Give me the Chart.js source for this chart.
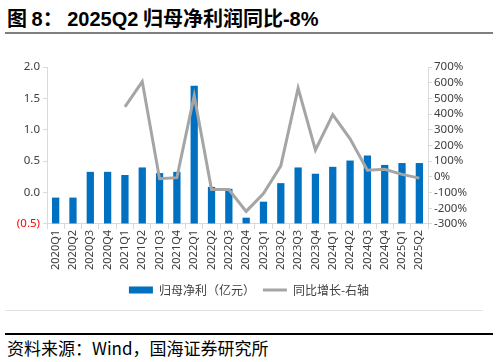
<!DOCTYPE html>
<html>
<head>
<meta charset="utf-8">
<script src="https://cdn.jsdelivr.net/npm/chart.js@4.4.0/dist/chart.umd.min.js"></script>
<style>
  body { margin: 0; background: #fff; width: 498px; height: 362px; position: relative; overflow: hidden; }
  #title { position: absolute; left: 7px; top: 3px; font: bold 20px "Noto Sans CJK SC", "Liberation Sans", sans-serif; color: #000; white-space: nowrap; }
  #title .num { font-family: "Liberation Sans", Arial, sans-serif; }
  #topline { position: absolute; left: 5px; top: 32px; width: 488px; height: 2px; background: #7f7f7f; }
  #wrap { position: absolute; left: 0; top: 40px; width: 498px; height: 266px; }
  #midline { position: absolute; left: 5px; top: 310px; width: 478px; height: 1px; background: #e3e3e3; }
  #botline { position: absolute; left: 5px; top: 333px; width: 488px; height: 2px; background: #000; }
  #source { position: absolute; left: 7px; top: 335px; font: 17px "Noto Sans CJK SC", sans-serif; color: #000; white-space: nowrap; }
</style>
</head>
<body>
<div id="title">图 <span class="num">8</span>：&nbsp;<span class="num">2025Q2</span> 归母净利润同比<span class="num">-8%</span></div>
<div id="topline"></div>
<div id="wrap"><canvas id="profitChart"></canvas></div>
<div id="midline"></div>
<div id="botline"></div>
<div id="source">资料来源：Wind，国海证券研究所</div>
<script>
const quarters = ['2020Q1','2020Q2','2020Q3','2020Q4','2021Q1','2021Q2','2021Q3','2021Q4',
  '2022Q1','2022Q2','2022Q3','2022Q4','2023Q1','2023Q2','2023Q3','2023Q4',
  '2024Q1','2024Q2','2024Q3','2024Q4','2025Q1','2025Q2'];
// 归母净利（亿元）
const netProfit = [-0.08, -0.08, 0.33, 0.33, 0.28, 0.40, 0.31, 0.33,
  1.70, 0.09, 0.06, -0.40, -0.145, 0.15, 0.40, 0.30,
  0.41, 0.51, 0.59, 0.44, 0.47, 0.47];
// 同比增长（%）
const yoyGrowth = [null, null, null, null, 446, 607, -12, -5,
  517, -81, -81, -220, -106, 70, 565, 171,
  397, 242, 42, 48, 16, -8];

const axisColor = '#d9d9d9';
const tickFont = { family: '"Noto Sans", "Open Sans", sans-serif', size: 11 };

const ctx = document.getElementById('profitChart').getContext('2d');
const profitChart = new Chart(ctx, {
    data: {
        labels: quarters,
        datasets: [{
            type: 'line',
            label: '同比增长-右轴',
            data: yoyGrowth,
            yAxisID: 'y1',
            borderColor: '#a5a5a5',
            backgroundColor: '#a5a5a5',
            borderWidth: 3,
            pointRadius: 0,
            tension: 0,
            order: 0
        }, {
            type: 'bar',
            label: '归母净利（亿元）',
            data: netProfit,
            yAxisID: 'y',
            base: -0.5,
            backgroundColor: '#0070c0',
            barPercentage: 0.42,
            categoryPercentage: 1,
            order: 1
        }]
    },
    options: {
        responsive: true,
        maintainAspectRatio: false,
        animation: false,
        layout: { padding: { left: 0, right: 0, top: 27, bottom: 0 } },
        plugins: {
            tooltip: { enabled: false },
            legend: {
                position: 'bottom',
                reverse: true,
                labels: {
                    usePointStyle: true,
                    pointStyleWidth: 24,
                    boxHeight: 7,
                    padding: 8,
                    color: '#404040',
                    font: { family: '"Noto Sans CJK SC", sans-serif', size: 12 },
                    generateLabels: chart => {
                        const items = Chart.defaults.plugins.legend.labels.generateLabels(chart);
                        items.forEach(it => {
                            it.pointStyle = chart.data.datasets[it.datasetIndex].type === 'line' ? 'line' : 'rect';
                        });
                        return items;
                    }
                }
            }
        },
        scales: {
            x: {
                afterFit: s => { s.height += 5; },
                grid: { display: true, drawOnChartArea: false, offset: true, color: axisColor, tickLength: 5 },
                border: { color: axisColor },
                ticks: { color: '#404040', font: tickFont, minRotation: 90, maxRotation: 90, padding: 1, autoSkip: false }
            },
            y: {
                position: 'left',
                min: -0.5,
                max: 2.0,
                afterFit: s => { s.width = 47; },
                grid: { drawOnChartArea: false, color: axisColor, tickLength: 4 },
                border: { color: axisColor },
                ticks: {
                    stepSize: 0.5,
                    autoSkip: false,
                    font: { family: tickFont.family, size: 11.5 },
                    padding: 3,
                    color: c => c.tick && c.tick.value < 0 ? '#ff0000' : '#404040',
                    callback: v => v < 0 ? '(' + Math.abs(v).toFixed(1) + ')' : v.toFixed(1)
                }
            },
            y1: {
                position: 'right',
                min: -300,
                max: 700,
                afterFit: s => { s.width = 70; },
                grid: { drawOnChartArea: false, color: axisColor, tickLength: 4 },
                border: { color: axisColor },
                ticks: {
                    stepSize: 100,
                    autoSkip: false,
                    font: { family: tickFont.family, size: 11.5 },
                    padding: 2,
                    color: '#404040',
                    callback: v => v + '%'
                }
            }
        }
    }
});
</script>
</body>
</html>
